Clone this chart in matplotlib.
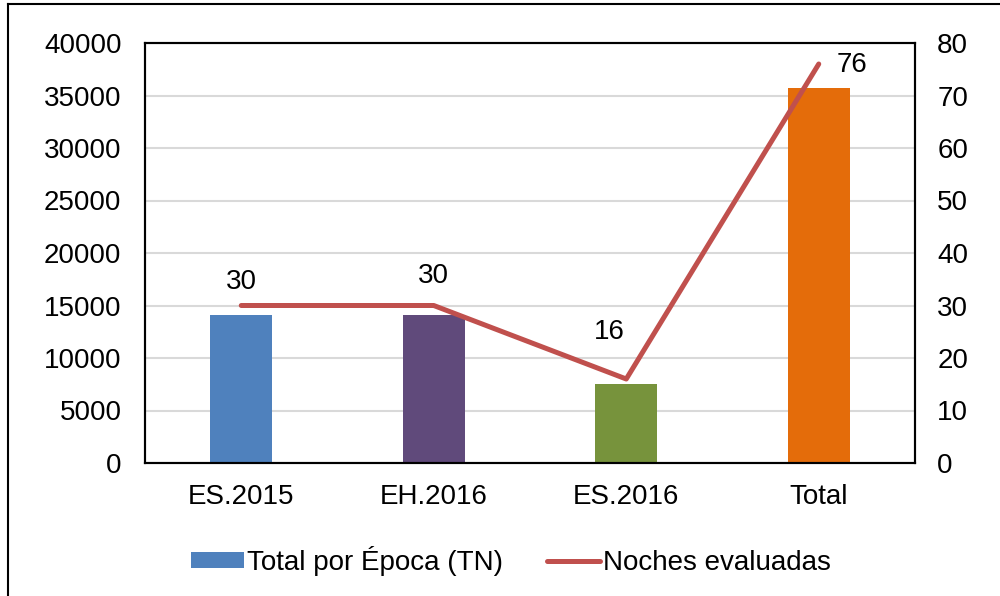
import matplotlib
matplotlib.use('agg')
import matplotlib.pyplot as plt
from matplotlib.lines import Line2D
import numpy as np

plt.rcParams['font.family'] = ['Liberation Sans', 'DejaVu Sans']

categories = ['ES.2015', 'EH.2016', 'ES.2016', 'Total']
toneladas = [14100, 14100, 7500, 35700]
noches = [30, 30, 16, 76]
bar_colors = ['#4F81BD', '#604A7B', '#77933C', '#E46C0A']
line_color = '#C0504D'

fig = plt.figure(figsize=(10, 5.96), dpi=100)
ax = fig.add_axes([0.145, 1 - 463 / 596, 0.77, 420 / 596])
ax2 = ax.twinx()

x = np.arange(len(categories))
ax.bar(x, toneladas, width=0.32, color=bar_colors, zorder=2, label='Total por Época (TN)')
ax.set_xlim(-0.5, len(categories) - 0.5)
ax.set_ylim(0, 40000)
ax.set_yticks(np.arange(0, 40001, 5000))
ax.yaxis.grid(True, color='#D9D9D9', linewidth=1.5, zorder=0)
ax.set_axisbelow(True)
ax.set_xticks(x)
ax.set_xticklabels(categories)
ax.tick_params(axis='both', length=0, labelsize=20)
ax.tick_params(axis='y', pad=17)
ax.tick_params(axis='x', pad=15)

ax2.plot(x, noches, color=line_color, linewidth=3.6, solid_capstyle='round',
         solid_joinstyle='round', zorder=3, label='Noches evaluadas')
ax2.set_ylim(0, 80)
ax2.set_yticks(np.arange(0, 81, 10))
ax2.tick_params(axis='y', length=0, labelsize=20, pad=16)

offsets = [(0, 17), (0, 21), (-12, 34), (24, -1)]
for xi, v, off in zip(x, noches, offsets):
    ax2.annotate(str(v), (xi, v), xytext=off, textcoords='offset points',
                 ha='center', va='center', fontsize=20)

for a in (ax, ax2):
    for s in a.spines.values():
        s.set_color('black')
        s.set_linewidth(1.5)

h1, l1 = ax.get_legend_handles_labels()
h2, l2 = ax2.get_legend_handles_labels()
fig.legend(h1 + h2, l1 + l2, loc='center', bbox_to_anchor=(0.511, 1 - 561 / 596),
           ncol=2, frameon=False, fontsize=20, handlelength=1.9, handleheight=0.5,
           handletextpad=0.1, columnspacing=1.6)

# chart outer frame (cut off on right and bottom)
fig.add_artist(Line2D([8 / 1000, 8 / 1000], [0, 1 - 4 / 596], color='black', linewidth=1.5))
fig.add_artist(Line2D([8 / 1000, 1], [1 - 4 / 596, 1 - 4 / 596], color='black', linewidth=1.5))

fig.savefig('out.png', dpi=100)
